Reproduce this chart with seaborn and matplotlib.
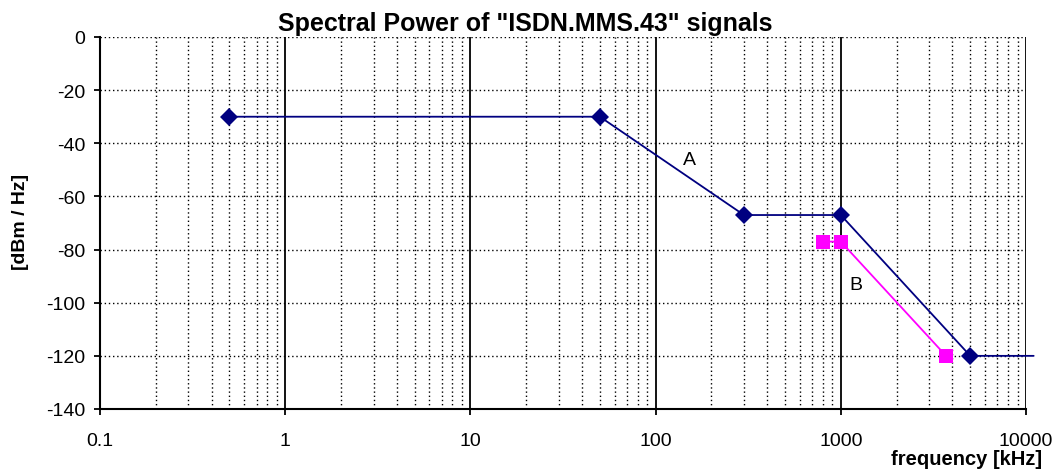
import matplotlib
matplotlib.use("Agg")
import matplotlib.pyplot as plt
import seaborn as sns
import pandas as pd
import numpy as np
from matplotlib.ticker import LogLocator, FixedLocator, NullFormatter

sns.set_style("white")
plt.rcParams['font.family'] = ['Liberation Sans', 'DejaVu Sans']
plt.rcParams['axes.unicode_minus'] = False
plt.rcParams['text.color'] = 'black'
plt.rcParams['xtick.color'] = 'black'
plt.rcParams['ytick.color'] = 'black'
plt.rcParams['xtick.labelcolor'] = 'black'
plt.rcParams['ytick.labelcolor'] = 'black'

a_freq = [0.5, 50, 300, 1000, 5000, 11000]
a_dbm = [-30, -30, -67, -67, -120, -120]
b_freq = [800, 1000, 3700]
b_dbm = [-77, -77, -120]
y_ticks = [0, -20, -40, -60, -80, -100, -120, -140]
x_ticks = [0.1, 1, 10, 100, 1000, 10000]
x_labels = ["0.1", "1", "10", "100", "1000", "10000"]

dfa = pd.DataFrame({"f": a_freq, "p": a_dbm})
dfb = pd.DataFrame({"f": b_freq, "p": b_dbm})

fig = plt.figure(figsize=(10.6, 4.77), dpi=100)
ax = fig.add_axes([100/1060, 1-410/477, 926/1060, 372/477])

ax.set_xscale("log")
ax.set_xlim(0.1, 10000)
ax.set_ylim(-140, 0)

ax.xaxis.set_major_locator(FixedLocator(x_ticks))
ax.xaxis.set_minor_locator(LogLocator(base=10, subs=np.arange(2, 10)))
ax.xaxis.set_minor_formatter(NullFormatter())
ax.set_xticklabels(x_labels)
ax.set_yticks(y_ticks)
ax.set_yticklabels([str(v) for v in y_ticks])
ax.grid(True, which="major", axis="x", color="black", linestyle="-", linewidth=1.3)
ax.grid(True, which="minor", axis="x", color="black", linestyle=(0, (1, 2)), linewidth=1.0)
ax.grid(True, which="major", axis="y", color="black", linestyle=(0, (1, 2)), linewidth=1.0)
ax.set_axisbelow(True)

sns.lineplot(data=dfb, x="f", y="p", ax=ax, color="#FF00FF", marker="s", markersize=10,
             markeredgewidth=0, linewidth=1.3, sort=False, estimator=None, zorder=3)
sns.lineplot(data=dfa, x="f", y="p", ax=ax, color="#000080", marker="D", markersize=9,
             markeredgewidth=0, linewidth=1.3, sort=False, estimator=None,
             markevery=[0, 1, 2, 3, 4], zorder=4, clip_on=False)

ax.text(152, -46, "A", fontsize=14, color="black", ha="center", va="center")
ax.text(1200, -93, "B", fontsize=14, color="black", ha="center", va="center")

for s in ["top", "right"]:
    ax.spines[s].set_visible(False)
for s in ["left", "bottom"]:
    ax.spines[s].set_color("black")
    ax.spines[s].set_linewidth(1.5)

ax.tick_params(axis="both", which="major", direction="out", length=4.5, width=1.3,
               color="black", labelcolor="black", labelsize=14, left=True, bottom=True)
ax.tick_params(axis="x", which="minor", length=0)
ax.tick_params(axis="x", which="major", pad=12)
ax.tick_params(axis="y", which="major", pad=6)

ax.set_xlabel("")
ax.set_ylabel("")
fig.text(525/1060, 1-31/477, 'Spectral Power of "ISDN.MMS.43" signals', fontsize=18,
         fontweight="bold", color="black", ha="center", va="baseline")
fig.text(21/1060, 1-222/477, "[dBm / Hz]", fontsize=14, fontweight="bold", color="black",
         rotation=90, ha="center", va="center")
fig.text(1042/1060, 1-465/477, "frequency [kHz]", fontsize=14.5, fontweight="bold",
         color="black", ha="right", va="baseline")

fig.savefig("out.png", dpi=100)
